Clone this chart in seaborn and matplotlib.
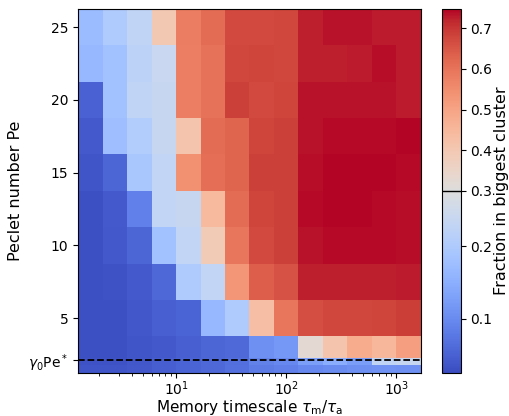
import numpy as np
import matplotlib
matplotlib.use("Agg")
import matplotlib.pyplot as plt
import matplotlib.colors as mcolors
import seaborn as sns

# ==========================================
# Data
# ==========================================
# memory timescale tau_m / tau_a (cell centres, log spaced)
tau = np.array([1.668, 2.783, 4.642, 7.743, 12.92, 21.54, 35.94,
                59.95, 100.0, 166.8, 278.3, 464.2, 774.3, 1292.0])

# Peclet numbers (cell centres)
pe = np.array([1.5, 2.0, 2.5, 5.0, 7.5, 10.0, 12.5, 15.0, 17.5, 20.0, 22.5, 25.0])

pe_star = 2.14  # gamma_0 Pe^*

# fraction in biggest cluster, one row per Pe (bottom to top)
row_pe_1_5 = [.054, .054, .057, .060, .065, .068, .075, .085, .089, .097, .101, .105, .109, .105]
row_pe_2_0 = [.052, .052, .055, .060, .065, .068, .074, .091, .097, .123, .144, .123, .232, .245]
row_pe_2_5 = [.051, .051, .054, .057, .062, .067, .070, .105, .114, .327, .412, .479, .452, .510]
row_pe_5_0 = [.051, .051, .055, .062, .065, .162, .201, .430, .595, .667, .676, .676, .681, .689]
row_pe_7_5 = [.051, .052, .058, .068, .201, .238, .533, .636, .658, .725, .725, .725, .725, .730]
row_pe_10 = [.051, .057, .067, .179, .238, .390, .595, .672, .685, .734, .743, .743, .743, .739]
row_pe_12_5 = [.051, .058, .089, .238, .245, .443, .613, .681, .685, .743, .747, .747, .743, .739]
row_pe_15 = [.054, .067, .190, .238, .542, .609, .627, .685, .685, .739, .747, .747, .747, .743]
row_pe_17_5 = [.058, .173, .207, .245, .412, .613, .627, .681, .685, .734, .743, .743, .743, .747]
row_pe_20 = [.063, .179, .232, .245, .578, .604, .685, .672, .681, .734, .734, .734, .734, .730]
row_pe_22_5 = [.162, .179, .226, .251, .578, .604, .676, .681, .676, .725, .725, .730, .739, .730]
row_pe_25 = [.168, .201, .232, .399, .582, .613, .672, .672, .676, .725, .734, .734, .730, .730]

frac = np.array([row_pe_1_5, row_pe_2_0, row_pe_2_5, row_pe_5_0, row_pe_7_5,
                 row_pe_10, row_pe_12_5, row_pe_15, row_pe_17_5, row_pe_20,
                 row_pe_22_5, row_pe_25])

cbar_ticks = [0.1, 0.2, 0.3, 0.4, 0.5, 0.6, 0.7]

# ==========================================
# Colour norm: sqrt below 0.3, linear above
# ==========================================
vmin, vcenter, vmax = 0.0477, 0.3, 0.7475
s0, s1 = np.sqrt(vmin), np.sqrt(vcenter)


def forward(v):
    v = np.asarray(v, dtype=float)
    low = 0.5 * (np.sqrt(np.clip(v, 0, None)) - s0) / (s1 - s0)
    high = 0.5 + 0.5 * (v - vcenter) / (vmax - vcenter)
    return np.where(v <= vcenter, low, high)


def inverse(f):
    f = np.asarray(f, dtype=float)
    low = (s0 + np.clip(f, 0, None) / 0.5 * (s1 - s0)) ** 2
    high = vcenter + (f - 0.5) / 0.5 * (vmax - vcenter)
    return np.where(f <= 0.5, low, high)


norm = mcolors.FuncNorm((forward, inverse), vmin=vmin, vmax=vmax)


def cell_edges(c):
    mid = (c[1:] + c[:-1]) / 2
    return np.concatenate([[c[0] - (mid[0] - c[0])], mid, [c[-1] + (c[-1] - mid[-1])]])


x_edges = 10 ** cell_edges(np.log10(tau))
y_edges = cell_edges(pe)

# ==========================================
# Plot
# ==========================================
sns.set_style("ticks", rc={"axes.edgecolor": "black", "text.color": "black",
                           "axes.labelcolor": "black", "xtick.color": "black",
                           "ytick.color": "black"})
plt.rcParams["font.family"] = ["DejaVu Sans"]
plt.rcParams["xtick.major.size"] = 3.5
plt.rcParams["ytick.major.size"] = 3.5
plt.rcParams["xtick.minor.size"] = 2

cmap = sns.color_palette("coolwarm", as_cmap=True)

fig = plt.figure(figsize=(5.09, 4.16), dpi=100)
ax = fig.add_axes([0.1538, 0.1041, 0.6727, 0.8743])
cax = fig.add_axes([0.8678, 0.1041, 0.0373, 0.8743])

mesh = ax.pcolormesh(x_edges, y_edges, frac, cmap=cmap, norm=norm, shading="flat")
ax.set_xscale("log")
ax.set_xlim(x_edges[0], x_edges[-1])
ax.set_ylim(y_edges[0], y_edges[-1])

ax.axhline(pe_star, color="black", ls="--", lw=1.3)

ax.set_yticks([pe_star, 5, 10, 15, 20, 25])
ax.set_yticklabels([r"$\gamma_0\mathrm{Pe}^*$", "5", "10", "15", "20", "25"])
ax.tick_params(labelsize=10)
ax.tick_params(axis="x", pad=1.5)

ax.set_xlabel(r"Memory timescale $\tau_\mathrm{m}/\tau_\mathrm{a}$", fontsize=11)
ax.xaxis.set_label_coords(0.5, -0.07)
ax.set_ylabel("Peclet number Pe", fontsize=11.5)

cbar = fig.colorbar(mesh, cax=cax)
cbar.set_ticks(cbar_ticks)
cbar.set_ticklabels([f"{t:.1f}" for t in cbar_ticks])
cbar.ax.tick_params(labelsize=10)
cbar.ax.axhline(0.3, color="black", lw=1)
cbar.set_label("Fraction in biggest cluster", fontsize=11.5, labelpad=1)

plt.savefig("out.png", dpi=100)
plt.close()
